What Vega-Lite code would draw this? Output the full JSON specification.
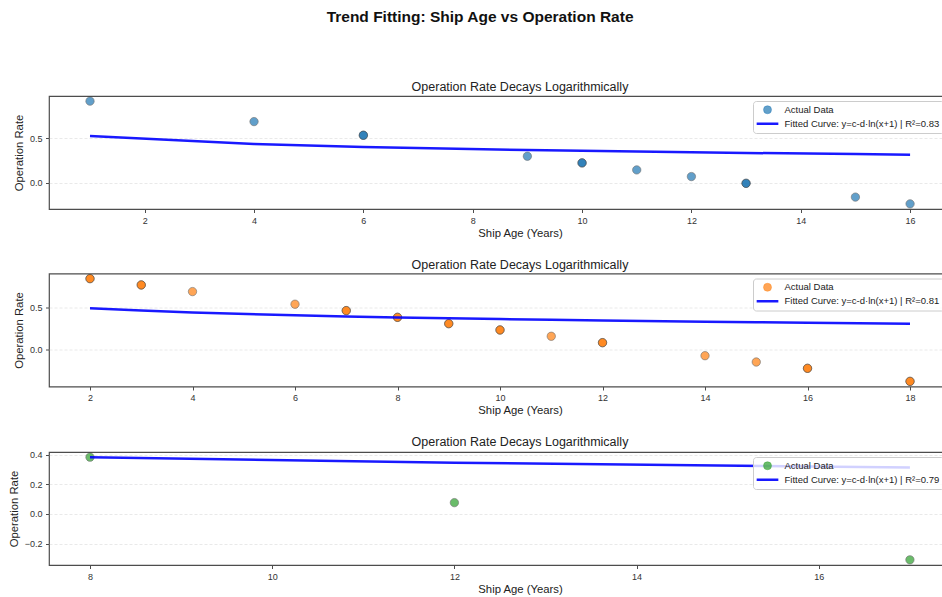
{
  "$schema": "https://vega.github.io/schema/vega-lite/v6.json",
  "background": "white",
  "padding": {"left": 7, "top": 10, "right": 0, "bottom": 0},
  "title": {
    "text": "Trend Fitting: Ship Age vs Operation Rate",
    "font": "Liberation Sans",
    "fontSize": 15.5,
    "fontWeight": "bold",
    "color": "#111111",
    "anchor": "start",
    "dx": 319,
    "offset": 55
  },
  "config": {
    "font": "Liberation Sans",
    "view": {"stroke": "#4d4d4d", "strokeWidth": 1.2},
    "axis": {
      "labelFont": "Liberation Sans",
      "labelFontSize": 9,
      "labelColor": "#333333",
      "titleFont": "Liberation Sans",
      "titleFontSize": 11.3,
      "titleFontWeight": "normal",
      "titleColor": "#222222",
      "domain": false,
      "tickColor": "#4d4d4d",
      "tickSize": 3.5,
      "tickCount": 20,
      "labelPadding": 3.5
    },
    "axisX": {"grid": false, "titlePadding": 2},
    "axisY": {"grid": true, "gridColor": "#e3e3e3", "gridDash": [3, 2], "gridWidth": 0.8, "titlePadding": 5},
    "title": {"font": "Liberation Sans", "fontSize": 12.5, "fontWeight": "normal", "color": "#222222", "offset": 2},
    "legend": {
      "orient": "none",
      "legendX": 704,
      "legendY": 5,
      "title": null,
      "fillColor": "rgba(255,255,255,0.8)",
      "strokeColor": "#cccccc",
      "cornerRadius": 3,
      "padding": 4,
      "labelFont": "Liberation Sans",
      "labelFontSize": 9.5,
      "labelColor": "#222222",
      "symbolSize": 64,
      "rowPadding": 3,
      "labelOffset": 18
    }
  },
  "datasets": {
    "topObs": [
      {"age": 1, "rate": 0.92}, {"age": 4, "rate": 0.69},
      {"age": 6, "rate": 0.536}, {"age": 6, "rate": 0.536},
      {"age": 9, "rate": 0.30},
      {"age": 10, "rate": 0.225}, {"age": 10, "rate": 0.225},
      {"age": 11, "rate": 0.146}, {"age": 12, "rate": 0.071},
      {"age": 13, "rate": -0.005}, {"age": 13, "rate": -0.005},
      {"age": 15, "rate": -0.16}, {"age": 16, "rate": -0.236}
    ],
    "topFit": [
      {"age": 1, "rate": 0.528}, {"age": 4, "rate": 0.438}, {"age": 6, "rate": 0.405},
      {"age": 9, "rate": 0.370}, {"age": 10, "rate": 0.361}, {"age": 11, "rate": 0.352},
      {"age": 12, "rate": 0.345}, {"age": 13, "rate": 0.337}, {"age": 15, "rate": 0.324},
      {"age": 16, "rate": 0.318}
    ],
    "midObs": [
      {"age": 2, "rate": 0.84}, {"age": 2, "rate": 0.84},
      {"age": 3, "rate": 0.765}, {"age": 3, "rate": 0.765},
      {"age": 4, "rate": 0.686}, {"age": 6, "rate": 0.536},
      {"age": 7, "rate": 0.46}, {"age": 7, "rate": 0.46},
      {"age": 8, "rate": 0.38}, {"age": 8, "rate": 0.38},
      {"age": 9, "rate": 0.305}, {"age": 9, "rate": 0.305},
      {"age": 10, "rate": 0.23}, {"age": 10, "rate": 0.23},
      {"age": 11, "rate": 0.155},
      {"age": 12, "rate": 0.079}, {"age": 12, "rate": 0.079},
      {"age": 14, "rate": -0.076}, {"age": 15, "rate": -0.151},
      {"age": 16, "rate": -0.226}, {"age": 16, "rate": -0.226},
      {"age": 18, "rate": -0.381}, {"age": 18, "rate": -0.381}
    ],
    "midFit": [
      {"age": 2, "rate": 0.488}, {"age": 3, "rate": 0.460}, {"age": 4, "rate": 0.438},
      {"age": 6, "rate": 0.404}, {"age": 7, "rate": 0.391}, {"age": 8, "rate": 0.379},
      {"age": 9, "rate": 0.369}, {"age": 10, "rate": 0.359}, {"age": 11, "rate": 0.351},
      {"age": 12, "rate": 0.343}, {"age": 14, "rate": 0.329}, {"age": 15, "rate": 0.322},
      {"age": 16, "rate": 0.316}, {"age": 18, "rate": 0.305}
    ],
    "lowObs": [
      {"age": 8, "rate": 0.383}, {"age": 12, "rate": 0.076}, {"age": 17, "rate": -0.31}
    ],
    "lowFit": [
      {"age": 8, "rate": 0.383}, {"age": 12, "rate": 0.346}, {"age": 17, "rate": 0.313}
    ]
  },
  "resolve": {
    "scale": {"x": "independent", "y": "independent", "color": "independent"},
    "legend": {"color": "independent"}
  },
  "spacing": 18.5,
  "vconcat": [
    {
      "width": 942,
      "height": 113,
      "title": "Operation Rate Decays Logarithmically",
      "layer": [
        {
          "data": {"name": "topObs"},
          "mark": {"type": "point", "filled": true, "shape": "circle", "size": 70, "opacity": 0.7, "stroke": "#333333", "strokeWidth": 0.6},
          "encoding": {
            "x": {"field": "age", "type": "quantitative", "title": "Ship Age (Years)",
                  "scale": {"domain": [0.25, 17.48], "nice": false, "zero": false},
                  "axis": {"values": [2, 4, 6, 8, 10, 12, 14, 16], "format": "d"}},
            "y": {"field": "rate", "type": "quantitative", "title": "Operation Rate",
                  "scale": {"domain": [-0.294, 0.978], "nice": false, "zero": false},
                  "axis": {"values": [0, 0.5], "format": ".1f"}},
            "color": {
              "datum": "Actual Data",
              "scale": {"domain": ["Actual Data", "Fitted Curve: y=c-d·ln(x+1) | R²=0.83"], "range": ["#1f77b4", "#0000ff"]},
              "legend": {
                "encoding": {"symbols": {
                  "x": {"value": 10.5},
                  "shape": {"value": {"expr": "datum.value === 'Actual Data' ? 'circle' : 'stroke'"}},
                  "size": {"value": {"expr": "datum.value === 'Actual Data' ? 64 : 470"}},
                  "fill": {"value": {"expr": "datum.value === 'Actual Data' ? '#1f77b4' : 'transparent'"}},
                  "fillOpacity": {"value": 0.7},
                  "stroke": {"value": {"expr": "datum.value === 'Actual Data' ? '#333333' : '#0000ff'"}},
                  "strokeOpacity": {"value": {"expr": "datum.value === 'Actual Data' ? 0.7 : 0.9"}},
                  "strokeWidth": {"value": {"expr": "datum.value === 'Actual Data' ? 0.6 : 2.5"}},
                  "opacity": {"value": 1}
                }}
              }
            }
          }
        },
        {
          "data": {"name": "topFit"},
          "mark": {"type": "line", "strokeWidth": 2.5, "opacity": 0.9},
          "encoding": {
            "x": {"field": "age", "type": "quantitative"},
            "y": {"field": "rate", "type": "quantitative"},
            "color": {"datum": "Fitted Curve: y=c-d·ln(x+1) | R²=0.83"}
          }
        }
      ]
    },
    {
      "width": 942,
      "height": 113,
      "title": "Operation Rate Decays Logarithmically",
      "layer": [
        {
          "data": {"name": "midObs"},
          "mark": {"type": "point", "filled": true, "shape": "circle", "size": 70, "opacity": 0.7, "stroke": "#333333", "strokeWidth": 0.6},
          "encoding": {
            "x": {"field": "age", "type": "quantitative", "title": "Ship Age (Years)",
                  "scale": {"domain": [1.2, 19.58], "nice": false, "zero": false},
                  "axis": {"values": [2, 4, 6, 8, 10, 12, 14, 16, 18], "format": "d"}},
            "y": {"field": "rate", "type": "quantitative", "title": "Operation Rate",
                  "scale": {"domain": [-0.442, 0.901], "nice": false, "zero": false},
                  "axis": {"values": [0, 0.5], "format": ".1f"}},
            "color": {
              "datum": "Actual Data",
              "scale": {"domain": ["Actual Data", "Fitted Curve: y=c-d·ln(x+1) | R²=0.81"], "range": ["#ff7f0e", "#0000ff"]},
              "legend": {
                "encoding": {"symbols": {
                  "x": {"value": 10.5},
                  "shape": {"value": {"expr": "datum.value === 'Actual Data' ? 'circle' : 'stroke'"}},
                  "size": {"value": {"expr": "datum.value === 'Actual Data' ? 64 : 470"}},
                  "fill": {"value": {"expr": "datum.value === 'Actual Data' ? '#ff7f0e' : 'transparent'"}},
                  "fillOpacity": {"value": 0.7},
                  "stroke": {"value": {"expr": "datum.value === 'Actual Data' ? '#333333' : '#0000ff'"}},
                  "strokeOpacity": {"value": {"expr": "datum.value === 'Actual Data' ? 0.7 : 0.9"}},
                  "strokeWidth": {"value": {"expr": "datum.value === 'Actual Data' ? 0.6 : 2.5"}},
                  "opacity": {"value": 1}
                }}
              }
            }
          }
        },
        {
          "data": {"name": "midFit"},
          "mark": {"type": "line", "strokeWidth": 2.5, "opacity": 0.9},
          "encoding": {
            "x": {"field": "age", "type": "quantitative"},
            "y": {"field": "rate", "type": "quantitative"},
            "color": {"datum": "Fitted Curve: y=c-d·ln(x+1) | R²=0.81"}
          }
        }
      ]
    },
    {
      "width": 942,
      "height": 113,
      "title": "Operation Rate Decays Logarithmically",
      "layer": [
        {
          "data": {"name": "lowObs"},
          "mark": {"type": "point", "filled": true, "shape": "circle", "size": 70, "opacity": 0.7, "stroke": "#333333", "strokeWidth": 0.6},
          "encoding": {
            "x": {"field": "age", "type": "quantitative", "title": "Ship Age (Years)",
                  "scale": {"domain": [7.55, 17.89], "nice": false, "zero": false},
                  "axis": {"values": [8, 10, 12, 14, 16], "format": "d"}},
            "y": {"field": "rate", "type": "quantitative", "title": "Operation Rate",
                  "scale": {"domain": [-0.345, 0.418], "nice": false, "zero": false},
                  "axis": {"values": [-0.2, 0, 0.2, 0.4], "format": ".1f"}},
            "color": {
              "datum": "Actual Data",
              "scale": {"domain": ["Actual Data", "Fitted Curve: y=c-d·ln(x+1) | R²=0.79"], "range": ["#2ca02c", "#0000ff"]},
              "legend": {
                "encoding": {"symbols": {
                  "x": {"value": 10.5},
                  "shape": {"value": {"expr": "datum.value === 'Actual Data' ? 'circle' : 'stroke'"}},
                  "size": {"value": {"expr": "datum.value === 'Actual Data' ? 64 : 470"}},
                  "fill": {"value": {"expr": "datum.value === 'Actual Data' ? '#2ca02c' : 'transparent'"}},
                  "fillOpacity": {"value": 0.7},
                  "stroke": {"value": {"expr": "datum.value === 'Actual Data' ? '#333333' : '#0000ff'"}},
                  "strokeOpacity": {"value": {"expr": "datum.value === 'Actual Data' ? 0.7 : 0.9"}},
                  "strokeWidth": {"value": {"expr": "datum.value === 'Actual Data' ? 0.6 : 2.5"}},
                  "opacity": {"value": 1}
                }}
              }
            }
          }
        },
        {
          "data": {"name": "lowFit"},
          "mark": {"type": "line", "strokeWidth": 2.5, "opacity": 0.9},
          "encoding": {
            "x": {"field": "age", "type": "quantitative"},
            "y": {"field": "rate", "type": "quantitative"},
            "color": {"datum": "Fitted Curve: y=c-d·ln(x+1) | R²=0.79"}
          }
        }
      ]
    }
  ]
}
